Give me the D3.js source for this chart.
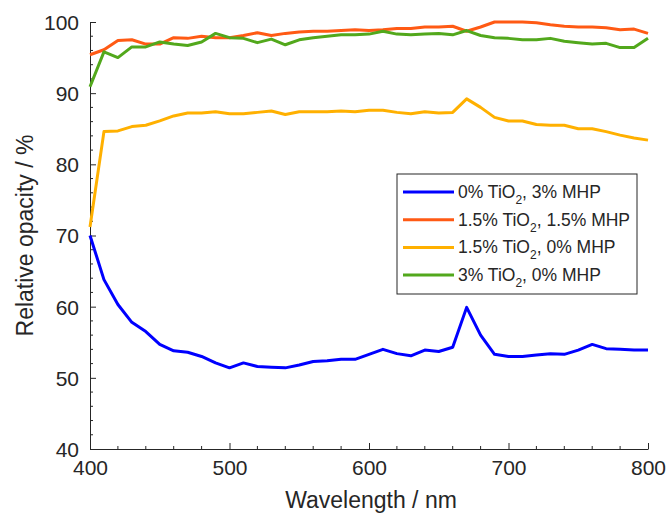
<!DOCTYPE html>
<html>
<head>
<meta charset="utf-8">
<script src="https://cdn.jsdelivr.net/npm/d3@7"></script>
<style>
  body { margin: 0; background: #fff; }
  text { font-family: "Liberation Sans", Arial, sans-serif; fill: #262626; }
</style>
</head>
<body>
<div id="chart"></div>
<script>
// Data
var wavelengths = d3.range(400, 801, 10);

var seriesNames = [
  ["0% TiO", "2", ", 3% MHP"],
  ["1.5% TiO", "2", ", 1.5% MHP"],
  ["1.5% TiO", "2", ", 0% MHP"],
  ["3% TiO", "2", ", 0% MHP"]
];
var seriesColors = ["#0000ff", "#ff5a14", "#ffb000", "#52a81c"];

var blue = [70.0, 63.8, 60.3, 57.8, 56.5, 54.7, 53.8, 53.6, 53.0, 52.1,
  51.4, 52.1, 51.6, 51.5, 51.4, 51.8, 52.3, 52.4, 52.6, 52.6,
  53.3, 54.0, 53.4, 53.1, 53.9, 53.7, 54.3, 59.9, 56.0, 53.3,
  53.0, 53.0, 53.2, 53.4, 53.3, 53.9, 54.7, 54.1, 54.0, 53.9, 53.9];
var orange = [95.4, 96.1, 97.4, 97.5, 96.9, 96.9, 97.8, 97.7, 98.0, 97.8,
  97.8, 98.1, 98.5, 98.1, 98.4, 98.6, 98.7, 98.7, 98.8, 98.9,
  98.8, 98.9, 99.1, 99.1, 99.3, 99.3, 99.4, 98.7, 99.3, 100.0,
  100.0, 100.0, 99.9, 99.6, 99.4, 99.3, 99.3, 99.2, 98.9, 99.0, 98.4];
var yellow = [71.2, 84.6, 84.7, 85.3, 85.5, 86.1, 86.8, 87.2, 87.2, 87.4,
  87.1, 87.1, 87.3, 87.5, 87.0, 87.4, 87.4, 87.4, 87.5, 87.4,
  87.6, 87.6, 87.3, 87.1, 87.4, 87.2, 87.3, 89.2, 88.0, 86.6,
  86.1, 86.1, 85.6, 85.5, 85.5, 85.0, 85.0, 84.6, 84.1, 83.7, 83.4];
var green = [90.9, 95.8, 95.0, 96.5, 96.5, 97.2, 96.9, 96.7, 97.2, 98.4,
  97.8, 97.7, 97.1, 97.6, 96.8, 97.5, 97.8, 98.0, 98.2, 98.2,
  98.3, 98.7, 98.3, 98.2, 98.3, 98.4, 98.2, 98.8, 98.1, 97.8,
  97.7, 97.5, 97.5, 97.7, 97.3, 97.1, 96.9, 97.0, 96.4, 96.4, 97.7];

var allSeries = [blue, orange, yellow, green];

var xTicks = [400, 500, 600, 700, 800];
var yTicks = [40, 50, 60, 70, 80, 90, 100];

// Chart parameters
var svgWidth = 667;
var svgHeight = 518;
var margin = { top: 22, right: 19, bottom: 69, left: 90 };
var width = svgWidth - margin.left - margin.right;
var height = svgHeight - margin.top - margin.bottom;

var svg = d3.select("#chart")
  .append("svg")
  .attr("width", svgWidth)
  .attr("height", svgHeight);

var chartGroup = svg.append("g")
  .attr("transform", `translate(${margin.left}, ${margin.top})`);

var xScale = d3.scaleLinear().domain([400, 800]).range([0, width]);
var yScale = d3.scaleLinear().domain([40, 100]).range([height, 0]);

// Minor ticks
var xMinor = d3.range(400, 801, 20).filter(d => d % 100 !== 0);
var yMinor = d3.range(40, 101, 2).filter(d => d % 10 !== 0);

chartGroup.selectAll(".xminor").data(xMinor).enter().append("line")
  .attr("x1", d => xScale(d)).attr("x2", d => xScale(d))
  .attr("y1", height).attr("y2", height - 3)
  .attr("stroke", "#262626");
chartGroup.selectAll(".yminor").data(yMinor).enter().append("line")
  .attr("x1", 0).attr("x2", 3)
  .attr("y1", d => yScale(d)).attr("y2", d => yScale(d))
  .attr("stroke", "#262626");

// Axes
var bottomAxis = d3.axisBottom(xScale).tickValues(xTicks).tickSizeInner(-6).tickSizeOuter(0).tickPadding(11);
var leftAxis = d3.axisLeft(yScale).tickValues(yTicks).tickSizeInner(-6).tickSizeOuter(0).tickPadding(11);

var gx = chartGroup.append("g")
  .attr("transform", `translate(0, ${height})`)
  .call(bottomAxis);
var gy = chartGroup.append("g").call(leftAxis);

[gx, gy].forEach(function(g) {
  g.select(".domain").attr("stroke", "#262626");
  g.selectAll(".tick line").attr("stroke", "#262626");
  g.selectAll(".tick text")
    .style("font-size", "21px")
    .style("font-family", "Liberation Sans, Arial, sans-serif")
    .attr("fill", "#262626");
});
gy.selectAll(".tick text").attr("dy", "0.35em");

// Axis labels
chartGroup.append("text")
  .attr("transform", "rotate(-90)")
  .attr("x", -height / 2)
  .attr("y", -57)
  .attr("text-anchor", "middle")
  .style("font-size", "23px")
  .text("Relative opacity / %");

chartGroup.append("text")
  .attr("x", width / 2 + 2)
  .attr("y", height + 59)
  .attr("text-anchor", "middle")
  .style("font-size", "23px")
  .text("Wavelength / nm");

// Lines
var line = d3.line()
  .x((d, i) => xScale(wavelengths[i]))
  .y(d => yScale(d));

allSeries.forEach(function(s, i) {
  chartGroup.append("path")
    .datum(s)
    .attr("fill", "none")
    .attr("stroke", seriesColors[i])
    .attr("stroke-width", 3)
    .attr("stroke-linejoin", "round")
    .attr("d", line);
});

// Legend
var legend = svg.append("g").attr("transform", "translate(397, 174)");
legend.append("rect")
  .attr("width", 240).attr("height", 120)
  .attr("fill", "#fff").attr("stroke", "#262626").attr("stroke-width", 1);

seriesNames.forEach(function(n, i) {
  var yy = 18 + i * 27.7;
  legend.append("line")
    .attr("x1", 6).attr("x2", 57)
    .attr("y1", yy).attr("y2", yy)
    .attr("stroke", seriesColors[i]).attr("stroke-width", 3);
  var t = legend.append("text")
    .attr("x", 61).attr("y", yy + 6)
    .style("font-size", "17.5px");
  t.append("tspan").text(n[0]);
  t.append("tspan").attr("dy", 6).style("font-size", "12px").text(n[1]);
  t.append("tspan").attr("dy", -6).text(n[2]);
});
</script>
</body>
</html>
